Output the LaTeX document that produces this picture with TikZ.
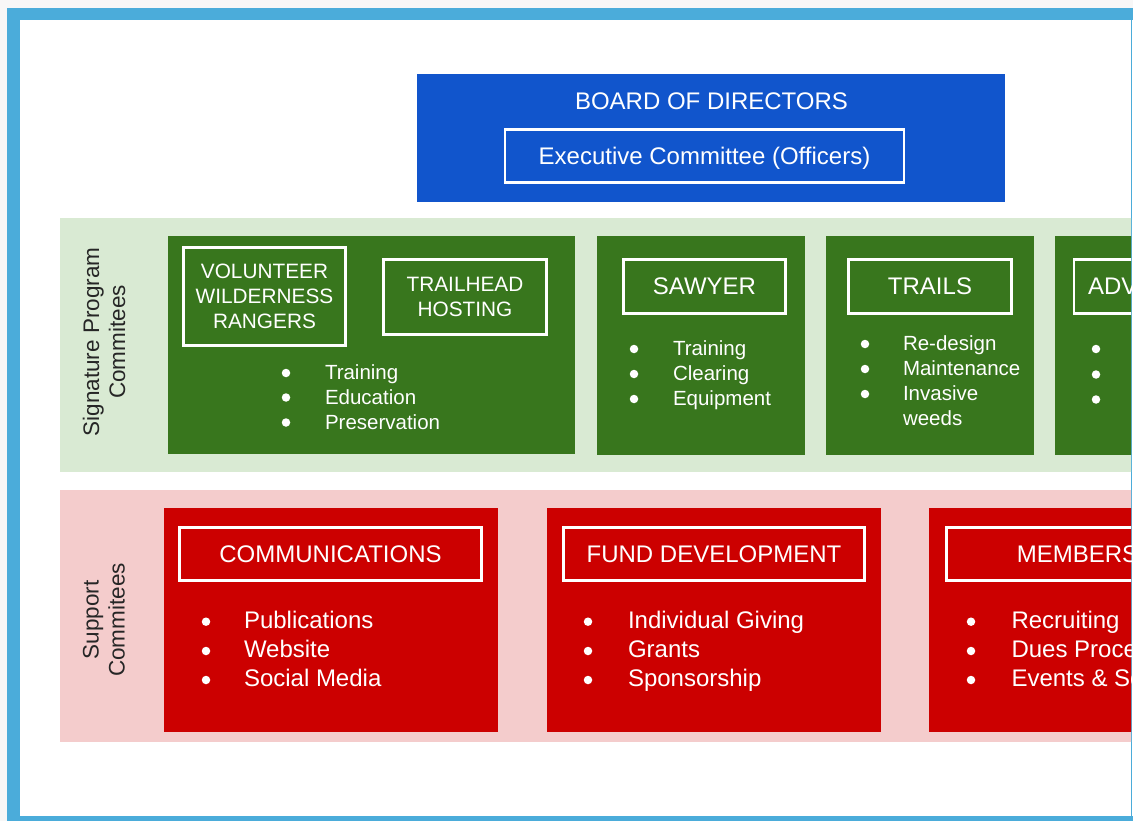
\documentclass[tikz,border=0pt]{standalone}
\usepackage{fontspec}
\setmainfont{Liberation Sans}
\definecolor{frameblue}{HTML}{4BACDA}
\definecolor{outerbg}{HTML}{F7F7F7}
\definecolor{boardblue}{HTML}{1155CC}
\definecolor{dkgreen}{HTML}{38761D}
\definecolor{ltgreen}{HTML}{D9EAD3}
\definecolor{dkred}{HTML}{CC0000}
\definecolor{ltred}{HTML}{F4CCCC}
\newcommand\fsz[2]{\fontsize{#1}{#2}\selectfont}
\begin{document}
\begin{tikzpicture}[x=1pt,y=-1pt,
  every node/.style={inner sep=0pt, outer sep=0pt},
  panel/.style={rectangle, draw=none},
  hdr/.style={rectangle, draw=white, line width=2.8pt, text=white, align=center, text depth=0pt},
  wtxt/.style={text=white, anchor=base},
  itm/.style={text=white, anchor=base west, align=left},
  dot/.style={circle, fill=white, minimum size=8.5pt},
  side/.style={text=black!85, rotate=90, align=center, font=\fsz{22.5}{26}}
]
\useasboundingbox (0,0) rectangle (1133,821);
% frame
\fill[outerbg] (0,0) rectangle (1133,821);
\fill[frameblue] (7,8) rectangle (1133,821);
\fill[white] (20,20) rectangle (1131,816);
\fill[white] (1132.3,20) rectangle (1133,816);

\begin{scope}
\clip (20,20) rectangle (1131,816);

% Board
\node[panel, fill=boardblue, minimum width=588, minimum height=128] (board) at (711,138) {};
\node[wtxt, font=\fsz{24}{29}] (boardtxt) at (711.5,109.6) {BOARD OF DIRECTORS};
\node[hdr, minimum width=399, minimum height=53, font=\fsz{24}{29}] (exec) at (704.5,156) {Executive Committee (Officers)};

% Signature band
\node[panel, fill=ltgreen, minimum width=1080, minimum height=254] (sigband) at (600,345) {};
\node[side] (siglbl) at (104,342) {Signature Program\\Commitees};

\node[panel, fill=dkgreen, minimum width=407, minimum height=218] (g1) at (371.5,345) {};
\node[panel, fill=dkgreen, minimum width=208, minimum height=219] (g2) at (701,345.5) {};
\node[panel, fill=dkgreen, minimum width=208, minimum height=219] (g3) at (930,345.5) {};
\node[panel, fill=dkgreen, minimum width=208, minimum height=219] (g4) at (1159,345.5) {};

\node[hdr, minimum width=162, minimum height=98, font=\fsz{20.8}{25}] (vwr) at (264.5,296.5) {VOLUNTEER\\WILDERNESS\\RANGERS};
\node[hdr, minimum width=163, minimum height=75, font=\fsz{20.8}{25}] (thh) at (465,297) {TRAILHEAD\\HOSTING};
\node[hdr, minimum width=162, minimum height=54, font=\fsz{24}{29}] (saw) at (704.5,286.5) {SAWYER};
\node[hdr, minimum width=163, minimum height=54, font=\fsz{24}{29}] (trl) at (930,286.5) {TRAILS};
\node[hdr, minimum width=163, minimum height=54, font=\fsz{24}{29}] (adv) at (1155.5,286.5) {ADVOCACY};

% box 1 items
\begin{scope}[every node/.append style={font=\fsz{20.5}{25}}]
\node[dot] (d1a) at (286,373) {};
\node[dot] (d1b) at (286,397.5) {};
\node[dot] (d1c) at (286,422.5) {};
\node[itm] (i1a) at (325,379.5) {Training};
\node[itm] (i1b) at (325,404) {Education};
\node[itm] (i1c) at (325,429) {Preservation};
% sawyer
\node[dot] (d2a) at (634,349) {};
\node[dot] (d2b) at (634,374) {};
\node[dot] (d2c) at (634,399) {};
\node[itm] (i2a) at (673,355.5) {Training};
\node[itm] (i2b) at (673,380.5) {Clearing};
\node[itm] (i2c) at (673,405.5) {Equipment};
% trails
\node[dot] (d3a) at (865,344) {};
\node[dot] (d3b) at (865,369) {};
\node[dot] (d3c) at (865,394) {};
\node[itm] (i3a) at (903,350.5) {Re-design};
\node[itm] (i3b) at (903,375.5) {Maintenance};
\node[itm] (i3c) at (903,425.5) {Invasive\\weeds};
% advocacy
\node[dot] (d4a) at (1096,349) {};
\node[dot] (d4b) at (1096,374.5) {};
\node[dot] (d4c) at (1096,399.5) {};
\end{scope}

% Support band
\node[panel, fill=ltred, minimum width=1080, minimum height=252] (supband) at (600,616) {};
\node[side] (suplbl) at (104,620) {Support\\Commitees};

\node[panel, fill=dkred, minimum width=334, minimum height=224] (r1) at (331,620) {};
\node[panel, fill=dkred, minimum width=334, minimum height=224] (r2) at (714,620) {};
\node[panel, fill=dkred, minimum width=334, minimum height=224] (r3) at (1096,620) {};

\node[hdr, minimum width=302, minimum height=53, font=\fsz{24}{29}] (comm) at (330.5,554) {COMMUNICATIONS};
\node[hdr, minimum width=301, minimum height=53, font=\fsz{24}{29}] (fund) at (714,554) {FUND DEVELOPMENT};
\node[hdr, minimum width=302, minimum height=53, font=\fsz{24}{29}] (memb) at (1097.5,554) {MEMBERSHIP};

\begin{scope}[every node/.append style={font=\fsz{24}{29}}]
\node[dot] (e1a) at (206,621.7) {};
\node[dot] (e1b) at (206,651) {};
\node[dot] (e1c) at (206,680) {};
\node[itm] (j1a) at (244,628.5) {Publications};
\node[itm] (j1b) at (244,657.5) {Website};
\node[itm] (j1c) at (244,686.5) {Social Media};

\node[dot] (e2a) at (588,621.7) {};
\node[dot] (e2b) at (588,651) {};
\node[dot] (e2c) at (588,680) {};
\node[itm] (j2a) at (628,628.5) {Individual Giving};
\node[itm] (j2b) at (628,657.5) {Grants};
\node[itm] (j2c) at (628,686.5) {Sponsorship};

\node[dot] (e3a) at (971,621.7) {};
\node[dot] (e3b) at (971,651) {};
\node[dot] (e3c) at (971,680) {};
\node[itm] (j3a) at (1011.5,628.5) {Recruiting};
\node[itm] (j3b) at (1011.5,657.5) {Dues Processing};
\node[itm] (j3c) at (1011.5,686.5) {Events \& Socials};
\end{scope}
\end{scope}
\end{tikzpicture}
\end{document}
